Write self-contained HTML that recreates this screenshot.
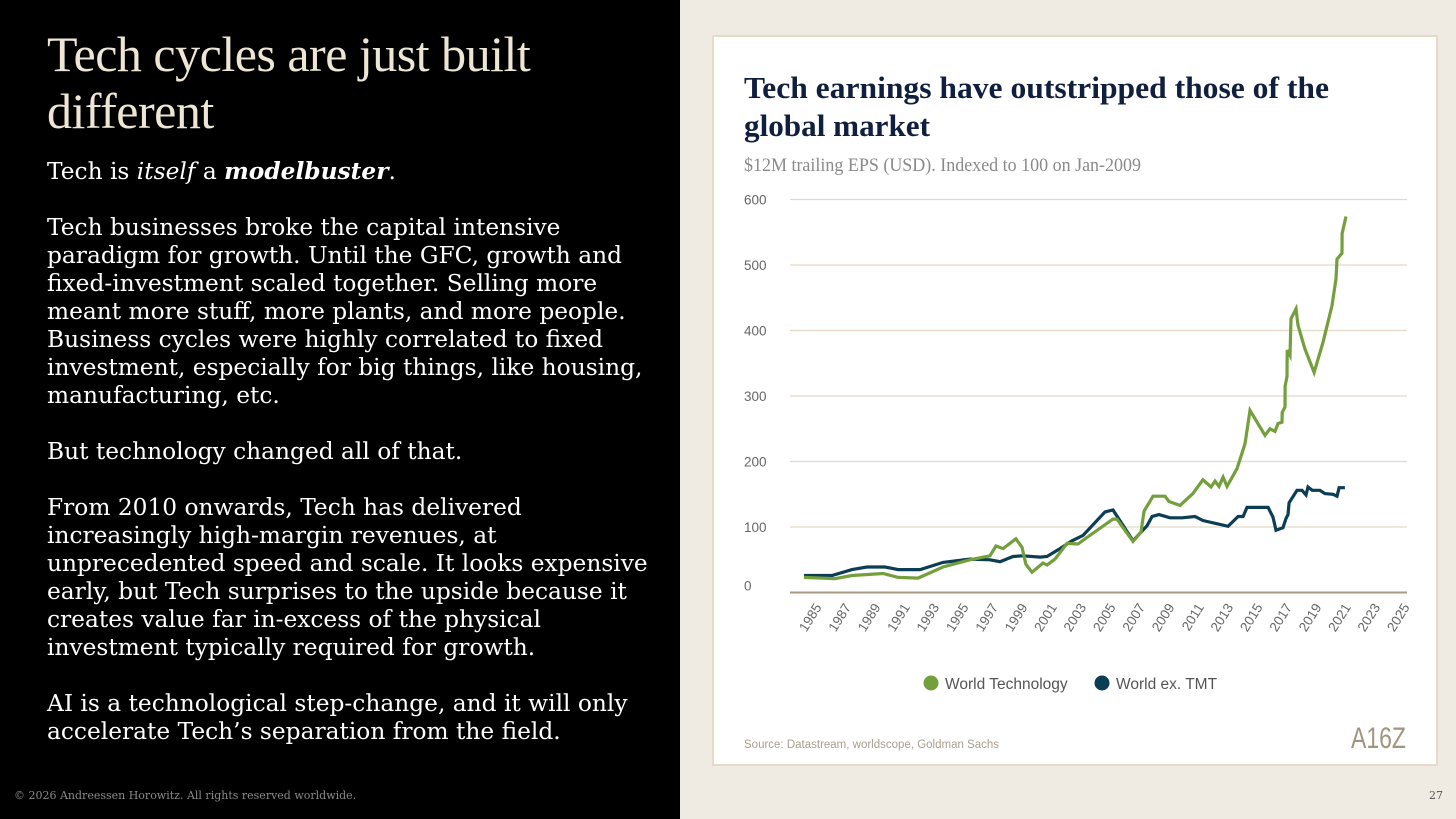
<!DOCTYPE html>
<html><head><meta charset="utf-8"><style>
*{margin:0;padding:0;box-sizing:border-box}
body{width:1456px;height:819px;overflow:hidden;background:#EFEBE3;position:relative;font-family:"Liberation Sans",sans-serif}
#left{position:absolute;left:0;top:0;width:680px;height:819px;background:#000}
#left h1{position:absolute;left:47px;top:26px;font-family:"Liberation Serif",serif;font-weight:normal;font-size:50px;line-height:57px;color:#EEE6D4;letter-spacing:-0.5px}
#body{position:absolute;left:47px;top:158px;width:640px;font-family:"DejaVu Serif",serif;font-size:23.3px;line-height:28px;color:#fff;white-space:nowrap}
#body p{margin-bottom:28px}
#copy{position:absolute;left:14px;top:789px;font-family:"DejaVu Serif",serif;font-size:11px;color:#8a8a8a}
#pg{position:absolute;left:1429px;top:789px;font-family:"DejaVu Serif",serif;font-size:11px;color:#555}
#card{position:absolute;left:712px;top:35px;width:726px;height:731px;background:#fff;border:2px solid #E4DCC9}
svg{position:absolute;left:0;top:0}
</style></head><body>
<div id="left">
<h1>Tech cycles are just built<br>different</h1>
<div id="body">
<p>Tech is <i>itself</i> a <b><i>modelbuster</i></b>.</p>
<p>Tech businesses broke the capital intensive<br>paradigm for growth. Until the GFC, growth and<br>fixed-investment scaled together. Selling more<br>meant more stuff, more plants, and more people.<br>Business cycles were highly correlated to fixed<br>investment, especially for big things, like housing,<br>manufacturing, etc.</p>
<p>But technology changed all of that.</p>
<p>From 2010 onwards, Tech has delivered<br>increasingly high-margin revenues, at<br>unprecedented speed and scale. It looks expensive<br>early, but Tech surprises to the upside because it<br>creates value far in-excess of the physical<br>investment typically required for growth.</p>
<p>AI is a technological step-change, and it will only<br>accelerate Tech’s separation from the field.</p>
</div>
<div id="copy">© 2026 Andreessen Horowitz. All rights reserved worldwide.</div>
</div>
<div id="card"></div>
<div id="pg">27</div>
<svg id="chart" width="1456" height="819">
<text x="744" y="98" font-family="Liberation Serif,serif" font-weight="bold" font-size="31" fill="#0F1F3D" textLength="585" lengthAdjust="spacingAndGlyphs">Tech earnings have outstripped those of the</text>
<text x="744" y="136" font-family="Liberation Serif,serif" font-weight="bold" font-size="31" fill="#0F1F3D" textLength="186" lengthAdjust="spacingAndGlyphs">global market</text>
<text x="744" y="171" font-family="Liberation Serif,serif" font-size="19" fill="#8a8a8a" textLength="397" lengthAdjust="spacingAndGlyphs">$12M trailing EPS (USD). Indexed to 100 on Jan-2009</text>
<g id="grid"></g><g id="xl"></g><g id="lines"></g>
<g>
<circle cx="931" cy="683" r="7.5" fill="#739F3D"/>
<text x="945" y="689" font-size="15.5" fill="#555">World Technology</text>
<circle cx="1102" cy="683" r="7.5" fill="#0B3D55"/>
<text x="1116" y="689" font-size="15.5" fill="#555">World ex. TMT</text>
</g>
<text x="744" y="748" font-size="11.5" fill="#A89F8E">Source: Datastream, worldscope, Goldman Sachs</text>
<text x="1351" y="748" font-family="Liberation Sans,sans-serif" font-size="30" fill="#A0957F" textLength="55" lengthAdjust="spacingAndGlyphs">A16Z</text>
</svg>
<script>
const yTicks=[0,100,200,300,400,500,600];
const xTicks=[1985,1987,1989,1991,1993,1995,1997,1999,2001,2003,2005,2007,2009,2011,2013,2015,2017,2019,2021,2023,2025];
const techYears=[1984.59,1986.7,1987.86,1989.97,1990.99,1992.35,1994.05,1995.88,1997.24,1997.65,1998.13,1999.01,1999.42,1999.69,2000.1,2000.85,2001.12,2001.67,2002.48,2003.23,2003.84,2005.61,2005.88,2006.97,2007.52,2007.72,2008.33,2009.15,2009.42,2010.17,2011.05,2011.73,2012.28,2012.55,2012.82,2013.1,2013.37,2014.05,2014.59,2014.93,2015.95,2016.29,2016.63,2016.84,2017.11,2017.12,2017.31,2017.32,2017.45,2017.46,2017.65,2017.72,2018.06,2018.2,2018.67,2019.29,2019.9,2020.51,2020.78,2020.85,2021.19,2021.2,2021.46];
const techValues=[23,21,26,29,23,22,39,50,56,71,67,82,69,43,31,45,42,51,75,74,84,112,112,78,92,124,147,147,139,133,151,172,161,170,162,176,162,189,227,278,240,250,246,258,260,275,283,315,330,370,362,418,433,408,372,336,382,438,479,509,518,548,574];
const worldYears=[1984.59,1986.5,1987.86,1988.88,1990.1,1990.99,1992.48,1994.05,1995.88,1997.24,1997.93,1998.81,1999.49,2000.65,2001.12,2002.01,2002.82,2003.57,2005.07,2005.61,2006.97,2007.93,2008.27,2008.74,2009.49,2010.31,2011.19,2011.73,2013.44,2014.12,2014.46,2014.73,2016.16,2016.5,2016.7,2017.18,2017.38,2017.52,2017.59,2018.13,2018.47,2018.74,2018.88,2019.16,2019.69,2020.03,2020.58,2020.85,2020.99,2021.39];
const worldValues=[26,26,35,39,39,35,35,46,51,50,47,55,56,54,55,67,79,87,123,126,79,102,116,119,114,114,116,110,101,116,116,130,130,115,95,99,113,119,137,156,156,149,161,156,156,151,150,147,160,160];
const NS="http://www.w3.org/2000/svg";
const X=y=>810+(y-1985)*14.7;
const Y=v=>592.5-v*0.655;
const grid=document.getElementById('grid'),xl=document.getElementById('xl'),lines=document.getElementById('lines');
yTicks.forEach(t=>{
  const l=document.createElementNS(NS,'line');
  
  
  l.setAttribute('x1',790);l.setAttribute('x2',1407);l.setAttribute('y1',Y(t));l.setAttribute('y2',Y(t));
  l.setAttribute('stroke',t===0?'#A89A85':'#E3D9C6');l.setAttribute('stroke-width',t===0?2:1.3);
  grid.appendChild(l);
  const tx=document.createElementNS(NS,'text');
  
  
  tx.setAttribute('x',744);tx.setAttribute('y',t===0?Y(t)-2:Y(t)+5);
  tx.setAttribute('font-size','13.5');tx.setAttribute('fill','#666');
  tx.textContent=t;grid.appendChild(tx);
});
xTicks.forEach(t=>{
  const tx=document.createElementNS(NS,'text');
  
  
  const x=X(t)+4,y=602;
  tx.setAttribute('x',x);tx.setAttribute('y',y);tx.setAttribute('text-anchor','end');
  tx.setAttribute('font-size','13.5');tx.setAttribute('fill','#666');
  tx.setAttribute('transform','rotate(-58 '+x+' '+y+')');
  tx.setAttribute('dominant-baseline','hanging');
  tx.textContent=t;xl.appendChild(tx);
});
function draw(ys,vs,col,name){
  const p=document.createElementNS(NS,'polyline');
  
  
  p.setAttribute('points',ys.map((y,i)=>X(y).toFixed(1)+','+Y(vs[i]).toFixed(1)).join(' '));
  p.setAttribute('fill','none');p.setAttribute('stroke',col);p.setAttribute('stroke-width','3.2');p.setAttribute('stroke-linejoin','miter');
  lines.appendChild(p);
}
draw(worldYears,worldValues,'#0B3D55','line-world-ex-tmt');
draw(techYears,techValues,'#739F3D','line-world-technology');
</script>
</body></html>
